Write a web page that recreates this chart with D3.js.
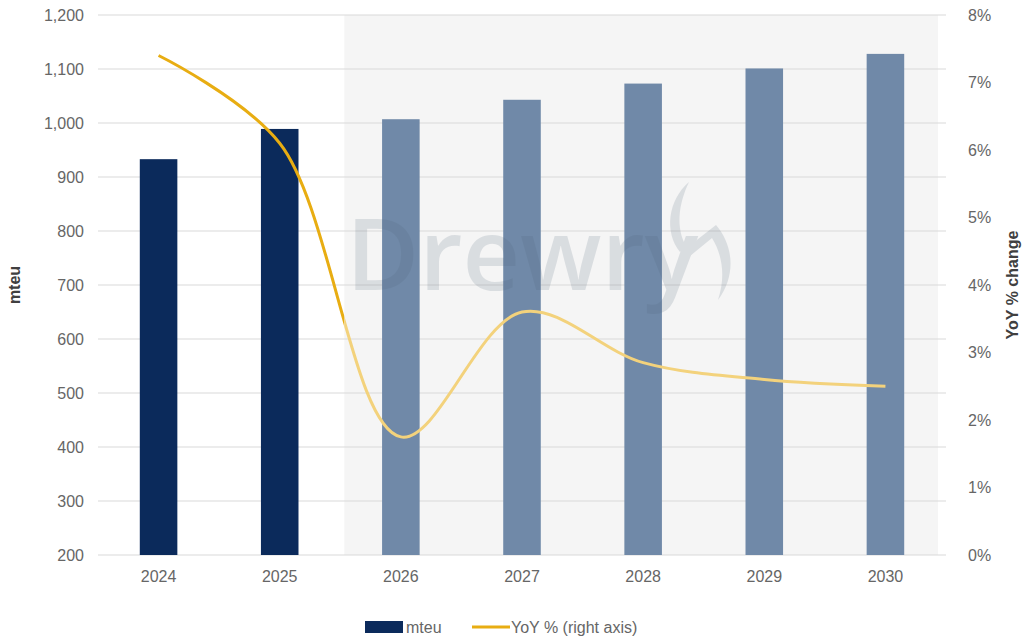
<!DOCTYPE html>
<html>
<head>
<meta charset="utf-8">
<script src="https://cdn.jsdelivr.net/npm/d3@7"></script>
<style>
  body { margin: 0; background: #fff; }
  text { font-family: "Liberation Sans", Arial, sans-serif; }
</style>
</head>
<body>
<div id="chart"></div>
<script>
const years = ["2024", "2025", "2026", "2027", "2028", "2029", "2030"];
const mteu = [933, 989, 1007, 1043, 1073, 1101, 1128];
const yoy = [7.4, 6.1, 1.75, 3.6, 2.85, 2.6, 2.5];
const leftTicks = [200, 300, 400, 500, 600, 700, 800, 900, 1000, 1100, 1200];
const rightTicks = [0, 1, 2, 3, 4, 5, 6, 7, 8];
const forecastFrom = "2026";

const W = 1030, H = 642;
const margin = { top: 15, right: 84, bottom: 87, left: 98 };
const width = W - margin.left - margin.right,
      height = H - margin.top - margin.bottom;

const svg = d3.select("#chart").append("svg")
    .attr("width", W).attr("height", H);
const g = svg.append("g").attr("transform", `translate(${margin.left},${margin.top})`);

const x = d3.scaleBand().domain(years).range([0, width]).padding(0);
const yL = d3.scaleLinear().domain([200, 1200]).range([height, 0]);
const yR = d3.scaleLinear().domain([0, 8]).range([height, 0]);

// forecast shading starts just after the 2025/2026 boundary
const shadeX = x(forecastFrom) + 4;
const shadeEnd = width - 8;

g.append("rect")
    .attr("x", shadeX).attr("y", 0)
    .attr("width", shadeEnd - shadeX).attr("height", height)
    .attr("fill", "#f5f5f5");

// gridlines
g.selectAll(".grid").data(leftTicks).enter().append("line")
    .attr("x1", 0).attr("x2", width)
    .attr("y1", d => yL(d)).attr("y2", d => yL(d))
    .attr("stroke", "#d9d9d9").attr("stroke-width", 1);

// bars
const barW = x.bandwidth() * 0.31;
g.selectAll(".bar").data(years).enter().append("rect")
    .attr("x", d => x(d) + x.bandwidth() / 2 - barW / 2)
    .attr("y", (d, i) => yL(mteu[i]))
    .attr("width", barW)
    .attr("height", (d, i) => yL(200) - yL(mteu[i]))
    .attr("fill", d => d >= forecastFrom ? "#7089a8" : "#0b2a5b");

// watermark
const wm = svg.append("g").attr("opacity", 0.16);
wm.append("text")
    .attr("x", 346).attr("y", 290)
    .style("font-family", "'Open Sans', sans-serif")
    .style("font-size", "100px").style("font-weight", 600)
    .attr("fill", "#4f6478")
    .text("Drewry");
wm.append("path")
    .attr("d", "M689,182 C668,200 664,232 680,252 L686,246 C676,228 678,205 689,182 Z")
    .attr("fill", "#4f6478");
wm.append("path")
    .attr("d", "M684,250 L716,225 C734,246 736,276 718,300 C726,276 722,254 712,238 L690,256 Z")
    .attr("fill", "#4f6478");

// YoY line, clipped into actual / forecast parts
const defs = svg.append("defs");
defs.append("clipPath").attr("id", "clipA").append("rect")
    .attr("x", -20).attr("y", -20).attr("width", shadeX + 20).attr("height", height + 40);
defs.append("clipPath").attr("id", "clipF").append("rect")
    .attr("x", shadeX).attr("y", -20).attr("width", width).attr("height", height + 40);

const line = d3.line()
    .x((d, i) => x(years[i]) + x.bandwidth() / 2)
    .y(d => yR(d))
    .curve(d3.curveCatmullRom.alpha(0.5));

g.append("path").datum(yoy)
    .attr("d", line).attr("fill", "none")
    .attr("stroke", "#e8ad12").attr("stroke-width", 3)
    .attr("clip-path", "url(#clipA)");
g.append("path").datum(yoy)
    .attr("d", line).attr("fill", "none")
    .attr("stroke", "#f3d27c").attr("stroke-width", 3)
    .attr("clip-path", "url(#clipF)");

// axes
const axL = g.append("g")
    .call(d3.axisLeft(yL).tickValues(leftTicks).tickSize(0).tickPadding(14).tickFormat(d3.format(",")));
const axR = g.append("g").attr("transform", `translate(${width},0)`)
    .call(d3.axisRight(yR).tickValues(rightTicks).tickSize(0).tickPadding(22).tickFormat(d => d + "%"));
const axB = g.append("g").attr("transform", `translate(0,${height})`)
    .call(d3.axisBottom(x).tickSize(0).tickPadding(16));
[axL, axR, axB].forEach(a => {
    a.select(".domain").remove();
    a.selectAll("text").style("font-size", "16px").attr("fill", "#666")
        .style("font-family", "'Liberation Sans', Arial, sans-serif");
});

// axis titles
svg.append("text")
    .attr("transform", `translate(20,${margin.top + height / 2}) rotate(-90)`)
    .attr("text-anchor", "middle")
    .style("font-size", "16px").style("font-weight", "bold").attr("fill", "#404040")
    .text("mteu");
svg.append("text")
    .attr("transform", `translate(1018,${margin.top + height / 2}) rotate(-90)`)
    .attr("text-anchor", "middle")
    .style("font-size", "16px").style("font-weight", "bold").attr("fill", "#404040")
    .text("YoY % change");

// legend
const lg = svg.append("g").attr("transform", "translate(365,627)");
lg.append("rect").attr("x", 0).attr("y", -6).attr("width", 38).attr("height", 12).attr("fill", "#0b2a5b");
lg.append("text").attr("x", 41).attr("y", 6).style("font-size", "16px").attr("fill", "#666").text("mteu");
lg.append("line").attr("x1", 107).attr("x2", 145).attr("y1", 0).attr("y2", 0)
    .attr("stroke", "#e8ad12").attr("stroke-width", 3);
lg.append("text").attr("x", 146).attr("y", 6).style("font-size", "16px").attr("fill", "#666").text("YoY % (right axis)");
</script>
</body>
</html>
